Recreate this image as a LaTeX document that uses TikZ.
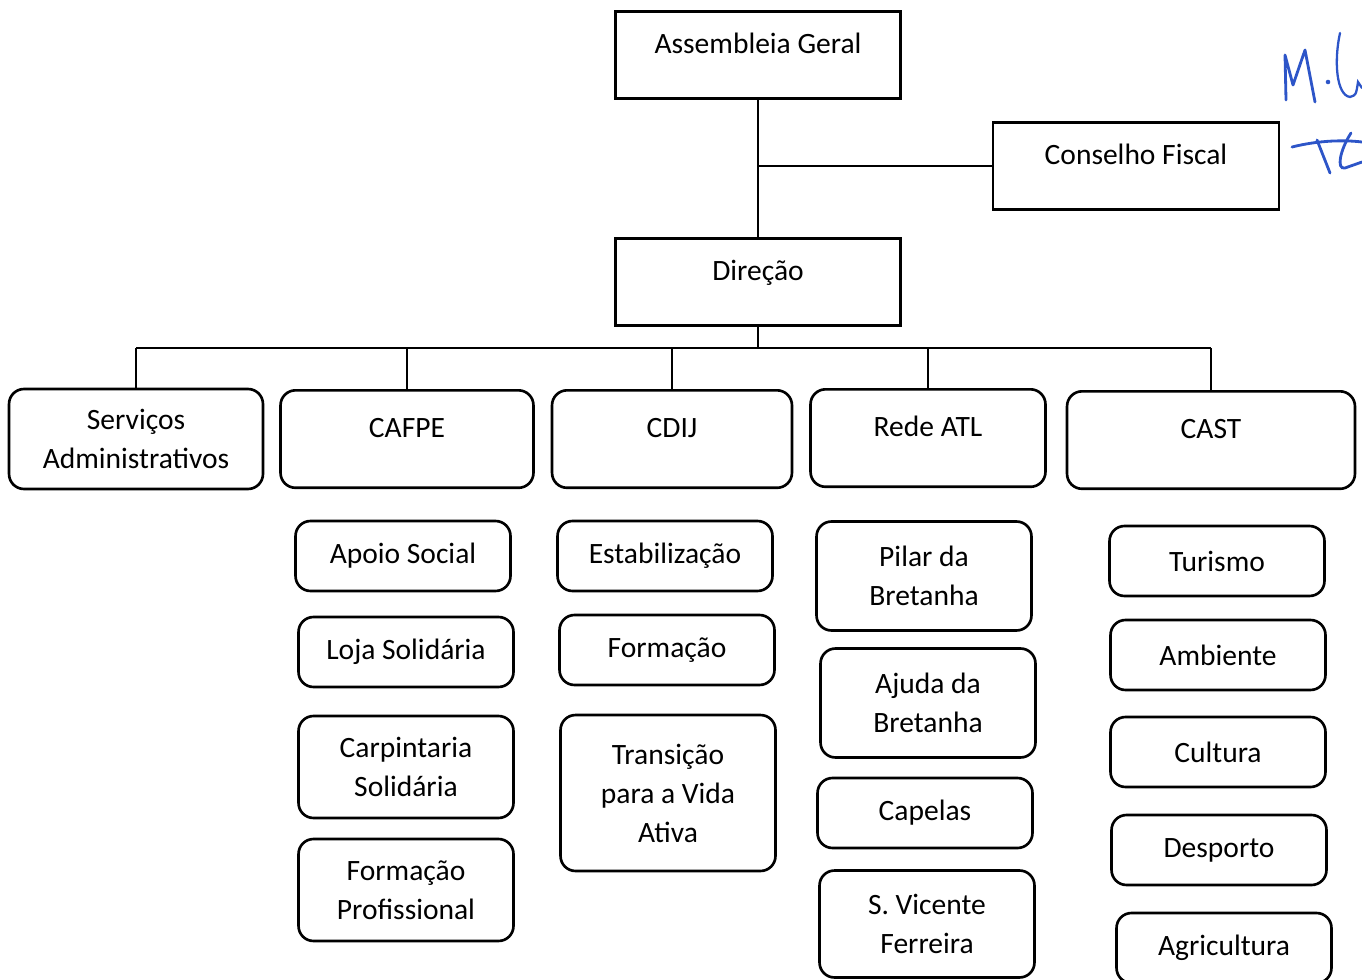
\documentclass[tikz,border=0pt]{standalone}
\usepackage{fontspec}
\setmainfont{Carlito}
\definecolor{caneta}{RGB}{45,85,200}

\begin{document}
\begin{tikzpicture}[x=0.02cm, y=-0.02cm,
  every node/.style={font=\fontsize{16.8}{22.2}\selectfont},
  topo/.style={draw, line width=1.6pt, minimum width=5.7cm, inner ysep=0pt, anchor=north, text height=.85cm, text depth=.9cm},
  rnd/.style={draw, line width=1.5pt, rounded corners=.3cm},
  unidade/.style={rnd, inner ysep=0pt, anchor=north, text height=.95cm, text depth=1cm},
  sub/.style={rnd, align=center, minimum width=4.3cm, minimum height=1.4cm},
  ligacao/.style={line width=.9pt}]

\useasboundingbox (0,0) rectangle (1362,980);
\clip (0,0) rectangle (1362,980);

%%%%%%%%%%%%%-------------topo
\node[topo] (ag) at (758,10) {Assembleia Geral};
\node[topo, minimum width=5.72cm] (cf) at (1136,121) {Conselho Fiscal};
\node[topo] (dir) at (758,237) {Direção};

%%%%%%%%%%%%%-------------unidades
\node[rnd, align=center, minimum width=5.08cm, minimum height=2cm] (sa) at (136,439) {Serviços\\Administrativos};
\node[unidade, minimum width=5.06cm] (cafpe) at (407,389) {CAFPE};
\node[unidade, minimum width=4.8cm] (cdij) at (672,389) {CDIJ};
\node[unidade, minimum width=4.7cm] (atl) at (928,388) {Rede ATL};
\node[unidade, minimum width=5.76cm] (cast) at (1211,390) {CAST};

%%%%%%%%%%%%%-------------ligacoes
\draw[ligacao] (ag.south) -- (dir.north);
\draw[ligacao] (cf.west) -- (cf.west -| ag.south);
\coordinate (barra) at (758,348);
\draw[ligacao] (dir.south) -- (dir.south |- barra);
\draw[ligacao] (barra -| sa.north) -- (barra -| cast.north);
\foreach \uni in {sa,cafpe,cdij,atl,cast}{
\draw[ligacao] (barra -| \uni.north) -- (\uni.north);}

%%%%%%%%%%%%%-------------CAFPE
\node[sub] (apoio) at (403,556) {Apoio Social};
\node[sub] (loja) at (406,652) {Loja Solidária};
\node[sub, minimum height=2.04cm] (carp) at (406,767) {Carpintaria\\Solidária};
\node[sub, minimum height=2.04cm] (fprof) at (406,890) {Formação\\Profissional};

%%%%%%%%%%%%%-------------CDIJ
\node[sub] (estab) at (665,556) {Estabilização};
\node[sub] (form) at (667,650) {Formação};
\node[sub, minimum height=3.12cm] (trans) at (668,793) {Transição\\para a Vida\\Ativa};

%%%%%%%%%%%%%-------------Rede ATL
\node[sub, minimum height=2.18cm] (pilar) at (924,576) {Pilar da\\Bretanha};
\node[sub, minimum height=2.18cm] (ajuda) at (928,703) {Ajuda da\\Bretanha};
\node[sub] (capelas) at (925,813) {Capelas};
\node[sub, minimum height=2.14cm] (svic) at (927,924) {S. Vicente\\Ferreira};

%%%%%%%%%%%%%-------------CAST
\node[sub] (tur) at (1217,561) {Turismo};
\node[sub] (amb) at (1218,655) {Ambiente};
\node[sub] (cult) at (1218,752) {Cultura};
\node[sub] (desp) at (1219,850) {Desporto};
\node[sub] (agri) at (1224,948) {Agricultura};

%%%%%%%%%%%%%-------------rubricas
\draw[caneta, line width=1.6pt, line cap=round, line join=round] (1286,100) -- (1285,55) -- (1293,85) -- (1305,50) -- (1315,102);
\fill[caneta] (1328,82) circle (1.3pt);
\draw[caneta, line width=1.3pt, line cap=round] (1340,33) .. controls (1334,60) and (1336,95) .. (1350,97) .. controls (1356,95) .. (1358,82) -- (1362,88);
\draw[caneta, line width=1.6pt, line cap=round] (1292,147) .. controls (1320,140) and (1345,140) .. (1362,142);
\draw[caneta, line width=1.6pt, line cap=round] (1317,140) -- (1330,173);
\draw[caneta, line width=1.6pt, line cap=round] (1351,133) .. controls (1340,150) and (1336,170) .. (1345,168) -- (1362,162);

\end{tikzpicture}
\end{document}
